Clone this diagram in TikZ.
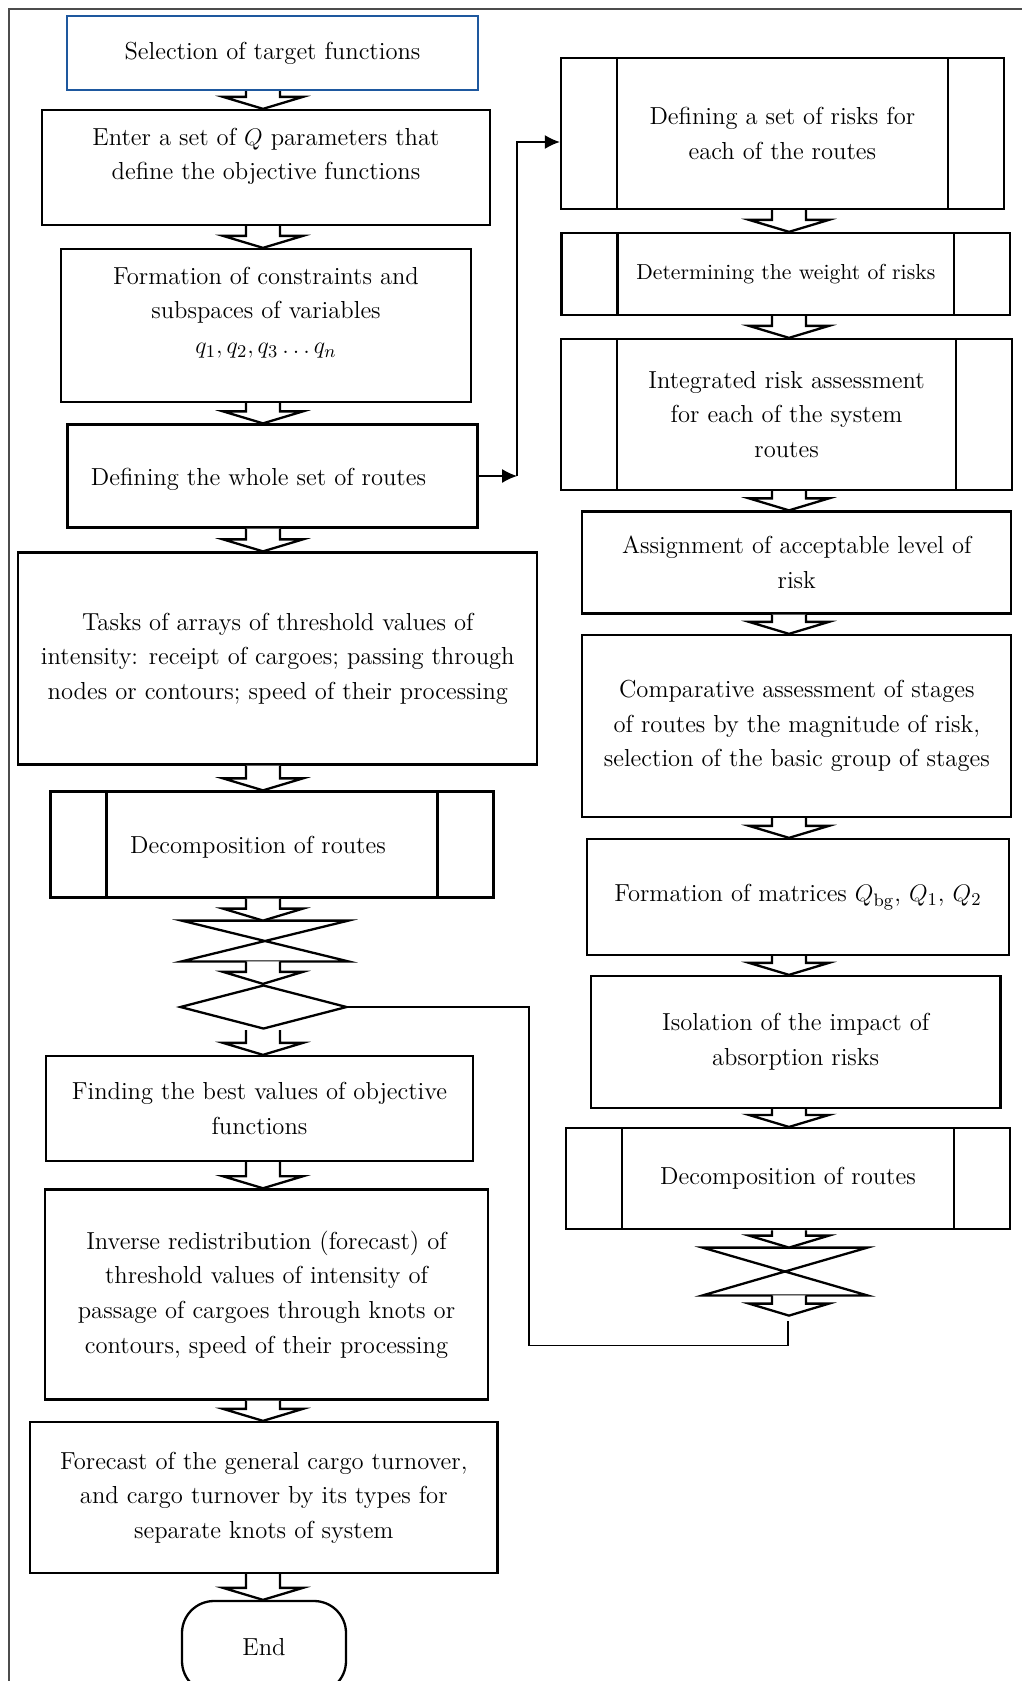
\documentclass[tikz,border=0pt]{standalone}
\usepackage{amsmath}
\usetikzlibrary{arrows.meta,calc,shapes.geometric}
\definecolor{boxblue}{RGB}{30,88,158}

\begin{document}
\begin{tikzpicture}[x=0.5pt,y=-0.5pt,>={Latex[length=7.5pt,width=7pt]},
  every node/.style={font=\fontsize{12.3}{17.3}\selectfont,align=center},
  box/.style={draw,line width=1.15pt,inner sep=0pt},
  subproc/.style={box,path picture={
    \draw[line width=1.15pt] ([xshift=28pt]path picture bounding box.north west)
      -- ([xshift=28pt]path picture bounding box.south west);
    \draw[line width=1.15pt] ([xshift=-28pt]path picture bounding box.north east)
      -- ([xshift=-28pt]path picture bounding box.south east);}},
  hollow/.style={line width=1.15pt,fill=white,line join=miter},
  thinline/.style={line width=0.6pt}]
\useasboundingbox (0,0) rectangle (1022,1681);
%frame
\draw[line width=0.7pt,gray!60!black] (9,1681) -- (9,9) -- (1022,9);
%left column
\node[box,draw=boxblue,minimum width=205.8pt,minimum height=37pt] (b1) at (272.5,53)
     {Selection of target functions};
\node[box,minimum width=224pt,minimum height=57.5pt] (b2) at (266,167.5) {};
\node (t2) at (266,156.5) {Enter a set of $Q$ parameters that\\define the objective functions};
\node[box,minimum width=205pt,minimum height=76.5pt] (b3) at (266,325.5) {};
\node (t3) at (266,312.5) {Formation of constraints and\\subspaces of variables\\$q_1, q_2, q_3 \dots q_n$};
\node[box,minimum width=205pt,minimum height=51.5pt] (b4) at (272.4,476) {};
\node (t4) at (258.5,479) {Defining the whole set of routes};
\node[box,minimum width=259.5pt,minimum height=106pt] (b5) at (277.8,658.5)
     {Tasks of arrays of threshold values of\\intensity: receipt of cargoes; passing through\\nodes or contours; speed of their processing};
\node[subproc,minimum width=221.5pt,minimum height=53pt] (b6) at (271.9,844.5) {};
\node (t6) at (258,847) {Decomposition of routes};
\node[minimum width=83pt,minimum height=20pt,inner sep=0pt] (hg1) at (265,941) {};
\draw[line width=1.15pt,line join=miter] (hg1.north west) -- (hg1.north east)
     -- (hg1.south west) -- (hg1.south east) -- cycle;
\node[diamond,draw,line width=1.15pt,inner sep=0pt,minimum width=83.5pt,minimum height=22pt]
     (d1) at (263.5,1007) {};
\node[box,minimum width=213.5pt,minimum height=52.5pt] (b7) at (259.5,1108.5)
     {Finding the best values of objective\\functions};
\node[box,minimum width=221.5pt,minimum height=105pt] (b8) at (266.5,1294.4)
     {Inverse redistribution (forecast) of\\threshold values of intensity of\\passage of cargoes through knots or\\contours, speed of their processing};
\node[box,minimum width=233.8pt,minimum height=75.5pt] (b9) at (263.8,1497.5)
     {Forecast of the general cargo turnover,\\and cargo turnover by its types for\\separate knots of system};
\node[box,rounded corners=16pt,minimum width=82pt,minimum height=46pt] (end) at (264,1647) {End};
%right column
\node[subproc,minimum width=221.5pt,minimum height=75.5pt] (r1) at (782.4,133.5)
     {Defining a set of risks for\\each of the routes};
\node[subproc,minimum width=224.25pt,minimum height=41pt,font=\fontsize{10.85}{14}\selectfont]
     (r2) at (785.8,274) {Determining the weight of risks};
\node[subproc,minimum width=225.5pt,minimum height=75.5pt] (r3) at (786.6,414.5)
     {Integrated risk assessment\\for each of the system\\routes};
\node[box,minimum width=214.5pt,minimum height=51pt] (r4) at (796.8,562.5)
     {Assignment of acceptable level of\\risk};
\node[box,minimum width=214.5pt,minimum height=91pt] (r5) at (796.8,726)
     {Comparative assessment of stages\\of routes by the magnitude of risk,\\selection of the basic group of stages};
\node[box,minimum width=211.25pt,minimum height=58pt] (r6) at (797.9,897)
     {Formation of matrices $Q_{\mathrm{bg}}$, $Q_1$, $Q_2$};
\node[box,minimum width=204.8pt,minimum height=66pt] (r7) at (795.7,1042)
     {Isolation of the impact of\\absorption risks};
\node[subproc,minimum width=222pt,minimum height=50.5pt] (r8) at (788,1178.6)
     {Decomposition of routes};
\node[minimum width=82pt,minimum height=23.5pt,inner sep=0pt] (hg2) at (785,1271.5) {};
\draw[line width=1.15pt,line join=miter] (hg2.north west) -- (hg2.north east)
     -- (hg2.south west) -- (hg2.south east) -- cycle;
\node[inner sep=0pt] (hg2tip) at (789,1317) {};
%block arrows
\foreach \ax/\a/\b in {263/b1/b2,263/b2/b3,263/b3/b4,263/b4/b5,263/b5/b6,263/b6/hg1,
  263/hg1/d1,263/d1/b7,263/b7/b8,263/b8/b9,263/b9/end,
  789/r1/r2,789/r2/r3,789/r3/r4,789/r4/r5,789/r5/r6,789/r6/r7,789/r7/r8,789/r8/hg2,789/hg2/hg2tip}
{
  \draw[hollow] ($(\ax,0 |- \a.south)+(-17,0)$) -- ($(\ax,0 |- \b.north)+(-17,-12)$)
    -- ++(-23,0) -- (\ax,0 |- \b.north) -- ++(40,-12) -- ++(-23,0)
    -- ($(\ax,0 |- \a.south)+(17,0)$);
}
%jump to right column
\coordinate (jmp) at (517,476);
\coordinate (jmptop) at (517,142);
\draw[thinline,->] (b4.east) -- (jmp);
\draw[thinline,->] (jmp) -- (jmptop) -- (r1.west |- jmptop);
%loop back to the decision
\coordinate (loopcorner) at (529,1345.7);
\coordinate (loopend) at (788,1321);
\draw[thinline] (d1.east) -| (loopcorner) -| (loopend);
\end{tikzpicture}
\end{document}
